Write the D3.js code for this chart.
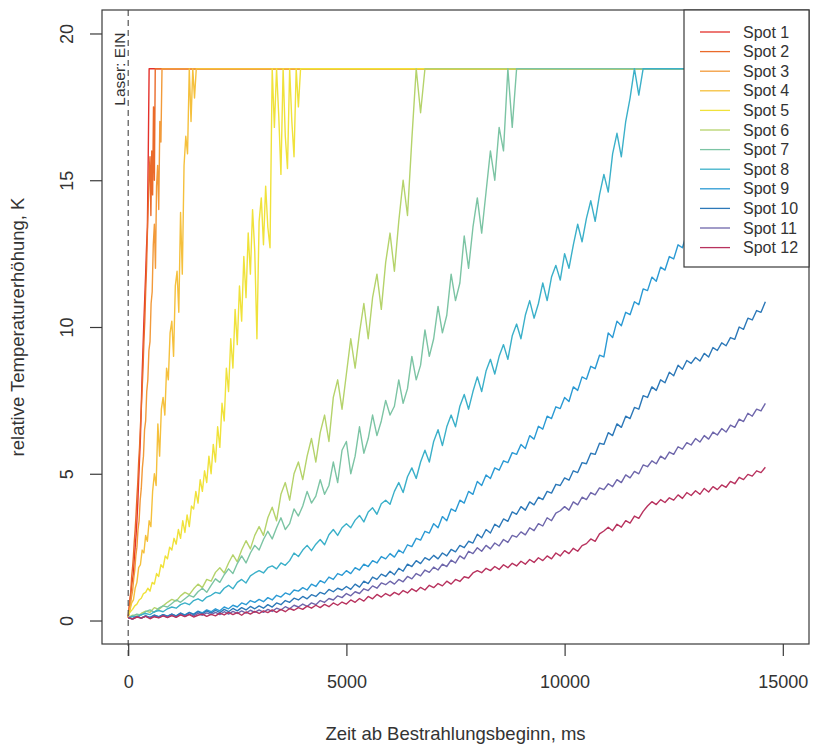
<!DOCTYPE html>
<html>
<head>
<meta charset="utf-8">
<script src="https://cdn.jsdelivr.net/npm/d3@7"></script>
<style>
  html, body { margin: 0; padding: 0; background: #fff; }
  svg { display: block; font-family: "Liberation Sans", Arial, sans-serif; }
</style>
</head>
<body>
<svg id="chart" width="813" height="745"></svg>
<script>
// ---------------- data ----------------
const spotNames = ["Spot 1","Spot 2","Spot 3","Spot 4","Spot 5","Spot 6","Spot 7","Spot 8","Spot 9","Spot 10","Spot 11","Spot 12"];
// sampling interval (ms) of each series, values start at t = 0
const sampleStepMs = [20, 20, 25, 40, 50, 100, 100, 100, 100, 100, 100, 100];
const ceilingK = 18.8;        // sensor ceiling, flat line
const recordEndMs = 14600;    // end of record
const laserOnMs = 0;
const xTicks = [0, 5000, 10000, 15000];
const yTicks = [0, 5, 10, 15, 20];

const spot1 = [0.10,0.40,0.70,0.90,1.20,1.40,1.60,2.10,2.50,2.90,3.40,4.00,4.80,5.50,6.20,7.30,8.40,9.30,10.20,11.00,11.80,12.70,13.40,15.90,18.80];
const spot2 = [0.10,0.40,0.70,1.00,1.50,1.80,2.20,2.70,3.10,3.60,4.20,4.70,5.40,5.90,6.60,7.20,7.90,8.60,9.50,10.20,11.20,12.00,13.20,14.20,15.20,15.80,13.80,16.00,14.50,17.50,15.00,18.80];
const spot3 = [0.10,0.30,0.50,0.80,1.00,1.40,1.70,2.20,2.50,3.10,3.40,4.10,4.50,5.20,5.60,6.50,6.80,7.80,8.20,9.20,9.50,10.80,11.20,12.80,13.50,12.00,14.80,15.50,14.00,17.00,16.30,18.80];
const spot4 = [0.25,0.35,0.60,0.70,1.10,1.30,1.80,1.90,2.40,2.30,
               2.90,2.70,3.40,3.20,4.40,5.00,4.60,6.70,5.60,7.20,
               7.60,7.00,8.60,8.20,9.80,10.20,9.00,11.40,11.90,10.50,
               13.90,11.80,15.50,16.50,15.90,18.80,17.00,18.80,17.80,18.80];
const spot5 = [0.20,0.30,0.38,0.50,0.56,0.70,0.76,0.92,0.96,1.10,
               1.00,1.30,1.24,1.60,1.50,1.90,1.80,2.20,2.10,2.50,
               2.40,2.80,2.60,3.10,2.80,3.40,3.00,3.60,3.20,3.90,
               3.80,4.40,4.00,4.80,4.40,5.10,4.70,5.60,5.00,6.00,
               5.40,6.60,5.90,7.40,6.80,8.60,7.80,9.60,8.60,10.60,
               9.40,11.40,10.20,12.40,11.00,13.20,11.80,14.00,12.60,9.60,
               13.60,14.40,12.80,14.80,13.40,12.70,18.80,16.80,18.80,17.20,
               15.20,18.80,16.50,15.40,18.80,17.00,15.80,18.80,17.50,18.80];
const spot6 = [0.10,0.18,0.14,0.24,0.32,0.28,0.44,0.38,0.50,0.62,
               0.72,0.66,0.84,0.96,0.88,1.08,1.24,1.12,1.40,1.34,
               1.64,1.80,1.62,1.96,2.24,2.00,2.40,2.72,2.44,2.90,
               3.20,2.90,3.50,3.86,3.40,4.30,4.70,4.10,5.00,5.40,
               4.80,5.60,6.20,5.40,6.40,7.00,6.10,7.60,8.20,7.20,
               8.40,9.60,8.60,9.80,10.80,9.60,11.00,11.80,10.60,12.20,
               13.20,11.90,13.60,15.00,13.80,16.40,18.80,17.30,18.80];
const spot7 = [0.10,0.16,0.22,0.18,0.30,0.36,0.28,0.42,0.50,0.46,
               0.58,0.70,0.62,0.74,0.86,0.80,0.98,1.10,0.96,1.20,
               1.42,1.30,1.56,1.76,1.60,1.94,2.20,1.96,2.30,2.56,
               2.40,2.76,3.04,2.78,3.16,3.50,3.10,3.30,3.80,3.56,
               3.90,4.40,4.00,4.24,4.80,4.30,4.60,5.40,4.70,5.80,
               6.10,5.00,5.60,6.60,5.70,6.20,7.00,6.30,6.80,7.50,
               7.00,7.30,8.20,7.40,7.90,9.00,8.20,8.70,9.90,9.00,
               9.60,10.70,9.80,10.40,11.80,10.90,11.50,13.10,12.00,13.40,
               14.40,13.20,14.60,16.00,15.00,16.80,16.00,18.80,16.80,18.80];
const spot8 = [0.10,0.14,0.12,0.20,0.24,0.20,0.30,0.34,0.30,0.40,
               0.46,0.42,0.54,0.60,0.54,0.68,0.74,0.66,0.80,0.86,
               0.96,0.92,1.10,1.20,1.08,1.30,1.40,1.28,1.52,1.62,
               1.70,1.62,1.80,1.86,1.76,1.96,1.88,2.04,2.30,2.18,
               2.40,2.56,2.38,2.60,2.76,2.58,2.92,3.10,2.90,3.16,
               3.30,3.16,3.42,3.58,3.36,3.70,3.84,3.62,3.98,4.10,
               3.96,4.40,4.70,4.36,4.90,5.20,4.84,5.40,5.80,5.40,
               6.10,6.50,5.96,6.60,7.00,6.60,7.30,7.70,7.20,7.80,
               8.30,7.80,8.50,8.90,8.40,9.00,9.40,8.90,9.70,10.10,
               9.60,10.40,10.90,10.30,10.80,11.50,10.90,11.70,12.10,11.60,
               12.50,12.00,12.80,13.50,12.90,13.70,14.30,13.60,14.50,15.20,
               14.60,15.90,16.60,15.80,17.00,17.80,18.80,17.90,18.80];
const spot9 = [0.10,0.06,0.14,0.09,0.16,0.11,0.18,0.13,0.20,0.15,
               0.22,0.16,0.25,0.19,0.28,0.22,0.32,0.26,0.36,0.30,
               0.40,0.33,0.46,0.40,0.52,0.46,0.60,0.54,0.68,0.62,
               0.72,0.64,0.78,0.70,0.86,0.80,0.94,0.88,1.04,1.00,
               1.12,1.04,1.24,1.16,1.36,1.28,1.48,1.40,1.60,1.54,
               1.70,1.60,1.80,1.72,1.92,1.84,2.04,1.96,2.18,2.10,
               2.28,2.16,2.40,2.30,2.58,2.52,2.80,2.74,3.04,2.98,
               3.30,3.16,3.54,3.40,3.80,3.72,4.10,4.00,4.40,4.30,
               4.74,4.60,4.96,4.84,5.20,5.12,5.44,5.38,5.72,5.66,
               6.00,5.86,6.30,6.18,6.62,6.52,6.96,6.88,7.28,7.22,
               7.60,7.46,7.96,7.84,8.30,8.22,8.66,8.58,9.04,8.98,
               9.80,9.64,10.20,10.04,10.50,10.42,10.86,10.76,11.30,11.24,
               11.70,11.56,12.04,11.94,12.40,12.32,12.80,12.70,13.20,13.10,
               13.70,13.52,14.10,13.90,14.30,14.20,14.50,14.40,14.80,14.74,
               15.10,15.00,15.40,15.30,15.70,15.60,16.00];
const spot10 = [0.10,0.05,0.14,0.08,0.16,0.10,0.18,0.12,0.20,0.14,
                0.22,0.15,0.25,0.17,0.27,0.20,0.30,0.22,0.33,0.25,
                0.35,0.27,0.38,0.30,0.41,0.33,0.44,0.36,0.48,0.40,
                0.50,0.42,0.54,0.46,0.60,0.54,0.68,0.62,0.76,0.70,
                0.82,0.74,0.88,0.82,0.96,0.90,1.06,0.98,1.10,1.04,
                1.16,1.06,1.24,1.14,1.34,1.26,1.48,1.40,1.58,1.50,
                1.68,1.56,1.78,1.68,1.92,1.84,2.04,1.94,2.14,2.06,
                2.22,2.10,2.30,2.20,2.42,2.34,2.56,2.48,2.70,2.64,
                2.94,2.82,3.10,2.98,3.28,3.18,3.46,3.38,3.70,3.62,
                3.88,3.76,4.04,3.94,4.20,4.12,4.40,4.34,4.64,4.60,
                4.86,4.78,5.10,5.04,5.38,5.34,5.70,5.66,6.04,6.00,
                6.40,6.30,6.70,6.58,6.96,6.88,7.26,7.20,7.66,7.60,
                7.96,7.84,8.20,8.10,8.46,8.34,8.70,8.56,8.86,8.76,
                8.96,8.84,9.10,8.98,9.30,9.20,9.46,9.36,9.64,9.58,
                10.00,9.92,10.30,10.24,10.56,10.50,10.86];
const spot11 = [0.10,0.06,0.13,0.08,0.15,0.09,0.14,0.10,0.17,0.12,
                0.18,0.12,0.20,0.14,0.22,0.16,0.24,0.18,0.26,0.20,
                0.28,0.20,0.30,0.22,0.31,0.24,0.33,0.25,0.35,0.28,
                0.36,0.28,0.38,0.31,0.42,0.36,0.47,0.40,0.52,0.46,
                0.56,0.48,0.60,0.54,0.68,0.62,0.75,0.70,0.84,0.78,
                0.92,0.84,0.98,0.92,1.08,1.02,1.18,1.10,1.28,1.22,
                1.34,1.24,1.40,1.32,1.50,1.42,1.60,1.52,1.72,1.64,
                1.82,1.72,1.92,1.84,2.06,1.96,2.20,2.10,2.36,2.28,
                2.48,2.36,2.56,2.44,2.64,2.54,2.76,2.66,2.90,2.84,
                3.02,2.92,3.16,3.06,3.30,3.22,3.50,3.40,3.66,3.74,
                3.88,3.76,4.04,3.94,4.20,4.12,4.36,4.28,4.52,4.46,
                4.66,4.56,4.80,4.70,4.96,4.86,5.08,5.00,5.30,5.24,
                5.44,5.34,5.60,5.50,5.74,5.66,5.92,5.84,6.06,5.98,
                6.20,6.08,6.30,6.18,6.42,6.32,6.54,6.42,6.66,6.58,
                6.86,6.78,7.06,6.96,7.20,7.14,7.40];
const spot12 = [0.10,0.05,0.12,0.08,0.14,0.06,0.13,0.09,0.16,0.10,
                0.17,0.11,0.19,0.13,0.20,0.12,0.18,0.22,0.14,0.21,
                0.16,0.25,0.19,0.28,0.20,0.27,0.18,0.29,0.22,0.31,
                0.24,0.33,0.27,0.36,0.28,0.38,0.30,0.41,0.35,0.44,
                0.38,0.49,0.42,0.52,0.44,0.55,0.47,0.60,0.52,0.63,
                0.56,0.70,0.62,0.75,0.66,0.82,0.74,0.89,0.80,0.92,
                0.84,0.96,0.88,1.02,0.94,1.08,0.99,1.13,1.04,1.20,
                1.12,1.26,1.18,1.34,1.24,1.40,1.33,1.49,1.45,1.62,
                1.70,1.63,1.78,1.70,1.84,1.74,1.90,1.80,1.95,1.86,
                2.02,1.92,2.08,1.98,2.14,2.04,2.20,2.10,2.30,2.20,
                2.38,2.28,2.46,2.36,2.55,2.62,2.78,2.70,2.95,3.05,
                3.18,3.06,3.28,3.18,3.40,3.32,3.56,3.48,3.72,3.90,
                4.05,3.95,4.12,4.02,4.18,4.10,4.28,4.16,4.36,4.26,
                4.42,4.30,4.50,4.38,4.56,4.46,4.62,4.54,4.74,4.66,
                4.88,4.80,4.98,4.92,5.10,5.04,5.22];

const spotValues = [spot1, spot2, spot3, spot4, spot5, spot6, spot7, spot8, spot9, spot10, spot11, spot12];
const spotColors = ["#e4312b","#ea6a2a","#f29a3a","#f5c03c","#f0e23a","#b5d36b",
                    "#7cc4a4","#3bb0c9","#2b9ad4","#2c78b8","#6e66ab","#b8325e"];

// ---------------- layout ----------------
const svg = d3.select("#chart");
const box = { left: 102, right: 809, top: 10, bottom: 644 };
const x = d3.scaleLinear().domain([-600, 15600]).range([box.left, box.right]);
const y = d3.scaleLinear().domain([-0.8, 20.8]).range([box.bottom, box.top]);
const inkColor = "#3a3a3a";

svg.append("defs").append("clipPath").attr("id", "plotClip")
  .append("rect")
  .attr("x", box.left).attr("y", box.top)
  .attr("width", box.right - box.left).attr("height", box.bottom - box.top);

// series
const line = d3.line().x(d => x(d[0])).y(d => y(d[1]));
const plot = svg.append("g").attr("clip-path", "url(#plotClip)");
spotValues.forEach((vals, i) => {
  const pts = vals.map((v, k) => [k * sampleStepMs[i], v]);
  const last = pts[pts.length - 1];
  if (last[1] >= ceilingK) pts.push([recordEndMs, ceilingK]);
  plot.append("path")
    .datum(pts)
    .attr("fill", "none")
    .attr("stroke", spotColors[i])
    .attr("stroke-width", 1.4)
    .attr("stroke-linejoin", "round")
    .attr("d", line);
});

// laser marker
svg.append("line")
  .attr("x1", x(laserOnMs)).attr("x2", x(laserOnMs))
  .attr("y1", box.top).attr("y2", box.bottom + 12)
  .attr("stroke", "#444").attr("stroke-width", 1.1)
  .attr("stroke-dasharray", "6,4");
svg.append("text")
  .attr("transform", `translate(${x(laserOnMs) - 3},${y(20) - 1}) rotate(-90)`)
  .attr("text-anchor", "end")
  .attr("font-size", 15.5)
  .attr("fill", "#333")
  .text("Laser: EIN");

// box
svg.append("rect")
  .attr("x", box.left).attr("y", box.top)
  .attr("width", box.right - box.left).attr("height", box.bottom - box.top)
  .attr("fill", "none").attr("stroke", inkColor).attr("stroke-width", 1.2);

// axes
const xAxis = svg.append("g")
  .attr("transform", `translate(0,${box.bottom})`)
  .call(d3.axisBottom(x).tickValues(xTicks).tickFormat(d3.format("d")).tickSize(12).tickPadding(19));
const yAxis = svg.append("g")
  .attr("transform", `translate(${box.left},0)`)
  .call(d3.axisLeft(y).tickValues(yTicks).tickSize(12));
[xAxis, yAxis].forEach(a => {
  a.select(".domain").remove();
  a.selectAll(".tick line").attr("stroke", inkColor).attr("stroke-width", 1.2);
  a.selectAll(".tick text").attr("fill", "#333").attr("font-size", 18)
    .attr("font-family", "'Liberation Sans', Arial, sans-serif");
});
yAxis.selectAll(".tick text")
  .attr("x", null).attr("dy", "0.35em")
  .attr("text-anchor", "middle")
  .attr("transform", "translate(-35,0) rotate(-90)");

// axis titles
svg.append("text")
  .attr("x", (box.left + box.right) / 2).attr("y", 740)
  .attr("text-anchor", "middle").attr("font-size", 18.5).attr("fill", "#333")
  .text("Zeit ab Bestrahlungsbeginn, ms");
svg.append("text")
  .attr("transform", `translate(24,${(box.top + box.bottom) / 2}) rotate(-90)`)
  .attr("text-anchor", "middle").attr("font-size", 18.5).attr("fill", "#333")
  .text("relative Temperaturerhöhung, K");

// legend
const legend = svg.append("g");
legend.append("rect")
  .attr("x", 684).attr("y", box.top)
  .attr("width", box.right - 684).attr("height", 257)
  .attr("fill", "#fff").attr("stroke", inkColor).attr("stroke-width", 1.2);
spotNames.forEach((name, i) => {
  const ry = 32 + i * 19.6;
  legend.append("line")
    .attr("x1", 700).attr("x2", 730).attr("y1", ry).attr("y2", ry)
    .attr("stroke", spotColors[i]).attr("stroke-width", 1.3);
  legend.append("text")
    .attr("x", 743).attr("y", ry).attr("dy", "0.35em")
    .attr("font-size", 16).attr("fill", "#333")
    .text(name);
});
</script>
</body>
</html>
